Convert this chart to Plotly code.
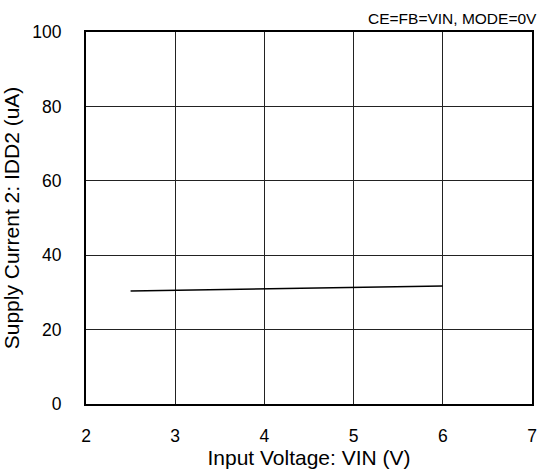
import plotly.graph_objects as go

vin = [2.5, 3.0, 3.5, 4.0, 4.5, 5.0, 5.5, 6.0]
idd2 = [30.4, 30.6, 30.8, 30.8, 31.0, 31.2, 31.5, 31.7]
x_ticks = [2, 3, 4, 5, 6, 7]
y_ticks = [0, 20, 40, 60, 80, 100]

fam = "Liberation Sans, Arial, sans-serif"
fig = go.Figure()
fig.add_trace(go.Scatter(x=vin, y=idd2, mode="lines",
                         line=dict(color="black", width=1.5), showlegend=False))

fig.update_layout(
    width=541, height=473,
    margin=dict(l=86, r=9, t=32, b=69),
    paper_bgcolor="white", plot_bgcolor="white",
    font=dict(family=fam, size=17.5, color="black"),
    xaxis=dict(range=[2, 7], tickvals=x_ticks, showgrid=True, gridcolor="#222222", gridwidth=1,
               showline=True, linecolor="black", linewidth=2, mirror=True, zeroline=False,
               ticks="", ticklen=0, ticklabelstandoff=15, automargin=False,
               title=dict(text="Input Voltage: VIN (V)", standoff=4)),
    yaxis=dict(range=[0, 100], tickvals=y_ticks, showgrid=True, gridcolor="#222222", gridwidth=1,
               showline=True, linecolor="black", linewidth=2, mirror=True, zeroline=False,
               ticks="", ticklen=0, ticklabelstandoff=19, automargin=False,
               title=dict(text="Supply Current 2: IDD2 (uA)", standoff=8)),
    annotations=[dict(text="CE=FB=VIN, MODE=0V", xref="paper", yref="paper", x=1.0, y=1.0,
                      xanchor="right", yanchor="bottom", showarrow=False, yshift=3, xshift=7,
                      font=dict(family=fam, size=15.5, color="black"))],
)
fig.write_html("out.html", config={"displayModeBar": False},
               post_script="document.body.style.margin='0';document.body.style.overflow='hidden';")
